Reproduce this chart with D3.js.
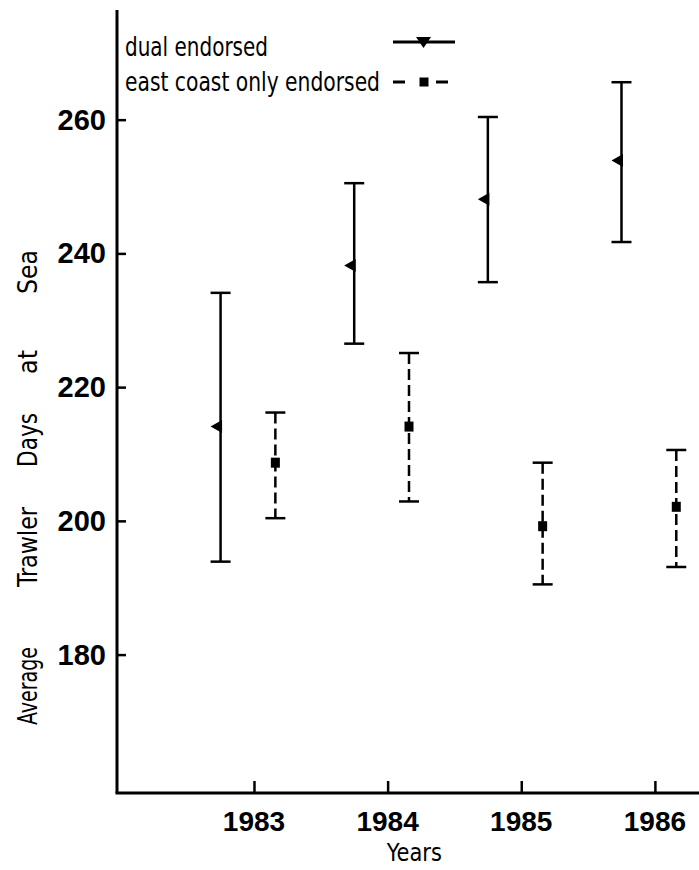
<!DOCTYPE html>
<html>
<head>
<meta charset="utf-8">
<script src="https://cdn.jsdelivr.net/npm/d3@7"></script>
<style>
  html, body { margin: 0; padding: 0; background: #fff; }
  svg { display: block; }
  .narrow { font-family: "Liberation Sans Narrow", "DejaVu Sans Condensed", "Roboto Condensed", "Liberation Sans", sans-serif; font-stretch: condensed; }
  .bold { font-family: "Liberation Sans", Arial, sans-serif; font-weight: bold; }
</style>
</head>
<body>
<script>
// ---- data ----
const years = [1983, 1984, 1985, 1986];
const yearLabels = ["1983", "1984", "1985", "1986"];
const yTicks = [180, 200, 220, 240, 260];
const dualMean = [214.1, 238.2, 248.1, 253.9];
const dualLow  = [193.9, 226.5, 235.7, 241.7];
const dualHigh = [234.1, 250.5, 260.4, 265.6];
const eastMean = [208.7, 214.1, 199.2, 202.1];
const eastLow  = [200.4, 202.9, 190.5, 193.1];
const eastHigh = [216.2, 225.1, 208.7, 210.6];
const seriesNames = ["dual endorsed", "east coast only endorsed"];
const yTitleWords = ["Average", "Trawler", "Days", "at", "Sea"];
const xTitle = "Years";

// ---- layout ----
const W = 699, H = 870;
const svg = d3.select("body").append("svg").attr("width", W).attr("height", H);

const x = d3.scaleLinear().domain([1981.975, 1986.33]).range([117, 699]);
const y = d3.scaleLinear().domain([159.3, 276.4]).range([793, 10]);

const dualOffset = -0.25, eastOffset = 0.16;

// axes
const yAxis = d3.axisRight(y).tickValues(yTicks).tickSize(9).tickFormat("");
const gy = svg.append("g").attr("transform", `translate(${x.range()[0]},0)`).call(yAxis);
gy.select(".domain").attr("stroke-width", 3).attr("d", `M0,${y.range()[1]}V${y.range()[0]}`);
gy.selectAll(".tick line").attr("stroke-width", 2.5);

const xAxis = d3.axisTop(x).tickValues(years).tickSize(12).tickFormat("");
const gx = svg.append("g").attr("transform", `translate(0,${y.range()[0]})`).call(xAxis);
gx.select(".domain").attr("stroke-width", 3).attr("d", `M${x.range()[0]-1.5},0H${x.range()[1]}`);
gx.selectAll(".tick line").attr("stroke-width", 2.5);

// tick labels
svg.append("g").selectAll("text").data(yTicks).join("text")
  .attr("class", "bold")
  .attr("x", 106).attr("y", d => y(d) + 10)
  .attr("text-anchor", "end").attr("font-size", 29)
  .text(d => d);

svg.append("g").selectAll("text").data(years).join("text")
  .attr("class", "bold")
  .attr("x", d => x(d)).attr("y", 831)
  .attr("text-anchor", "middle").attr("font-size", 28)
  .text((d, i) => yearLabels[i]);

// axis titles
svg.append("text").attr("class", "narrow")
  .attr("x", x(1984.2)).attr("y", 861).attr("text-anchor", "middle")
  .attr("font-size", 25).attr("textLength", 55).attr("lengthAdjust", "spacingAndGlyphs")
  .text(xTitle);

const yTitlePos = [686, 547, 440, 362, 272];
const yTitleLen = [78, 80, 54, 24, 44];
svg.append("g").selectAll("text").data(yTitleWords).join("text")
  .attr("class", "narrow")
  .attr("transform", (d, i) => `translate(37,${yTitlePos[i]}) rotate(-90)`)
  .attr("text-anchor", "middle").attr("font-size", 26)
  .attr("textLength", (d, i) => yTitleLen[i]).attr("lengthAdjust", "spacingAndGlyphs")
  .text(d => d);

// error bars
function drawSeries(mean, low, high, offset, dashed, marker) {
  const g = svg.append("g");
  const cap = 10;
  years.forEach((yr, i) => {
    const cx = x(yr + offset);
    g.append("line").attr("x1", cx).attr("x2", cx).attr("y1", y(high[i])).attr("y2", y(low[i]))
      .attr("stroke", "#000").attr("stroke-width", 2.5)
      .attr("stroke-dasharray", dashed ? "11,5" : null);
    [high[i], low[i]].forEach(v => {
      g.append("line").attr("x1", cx - cap).attr("x2", cx + cap).attr("y1", y(v)).attr("y2", y(v))
        .attr("stroke", "#000").attr("stroke-width", 2.5);
    });
    const cy = y(mean[i]);
    if (marker === "left") {
      g.append("path").attr("d", `M${cx - 10},${cy} L${cx + 1.5},${cy - 6.5} L${cx + 1.5},${cy + 6.5} Z`).attr("fill", "#000");
    } else {
      g.append("rect").attr("x", cx - 4.5).attr("y", cy - 5).attr("width", 9).attr("height", 10).attr("fill", "#000");
    }
  });
}
drawSeries(dualMean, dualLow, dualHigh, dualOffset, false, "left");
drawSeries(eastMean, eastLow, eastHigh, eastOffset, true, "square");

// legend
const leg = svg.append("g");
leg.append("text").attr("class", "narrow").attr("x", 125).attr("y", 56)
  .attr("font-size", 27).attr("textLength", 143).attr("lengthAdjust", "spacingAndGlyphs").text(seriesNames[0]);
leg.append("text").attr("class", "narrow").attr("x", 125).attr("y", 91)
  .attr("font-size", 27).attr("textLength", 255).attr("lengthAdjust", "spacingAndGlyphs").text(seriesNames[1]);
leg.append("line").attr("x1", 393).attr("x2", 455).attr("y1", 42).attr("y2", 42).attr("stroke", "#000").attr("stroke-width", 3);
leg.append("path").attr("d", "M416,37 L431,37 L423.5,48 Z").attr("fill", "#000");
leg.append("line").attr("x1", 393).attr("x2", 405).attr("y1", 82).attr("y2", 82).attr("stroke", "#000").attr("stroke-width", 3);
leg.append("line").attr("x1", 436).attr("x2", 448).attr("y1", 82).attr("y2", 82).attr("stroke", "#000").attr("stroke-width", 3);
leg.append("rect").attr("x", 419.5).attr("y", 77.5).attr("width", 9).attr("height", 9).attr("fill", "#000");
</script>
</body>
</html>
